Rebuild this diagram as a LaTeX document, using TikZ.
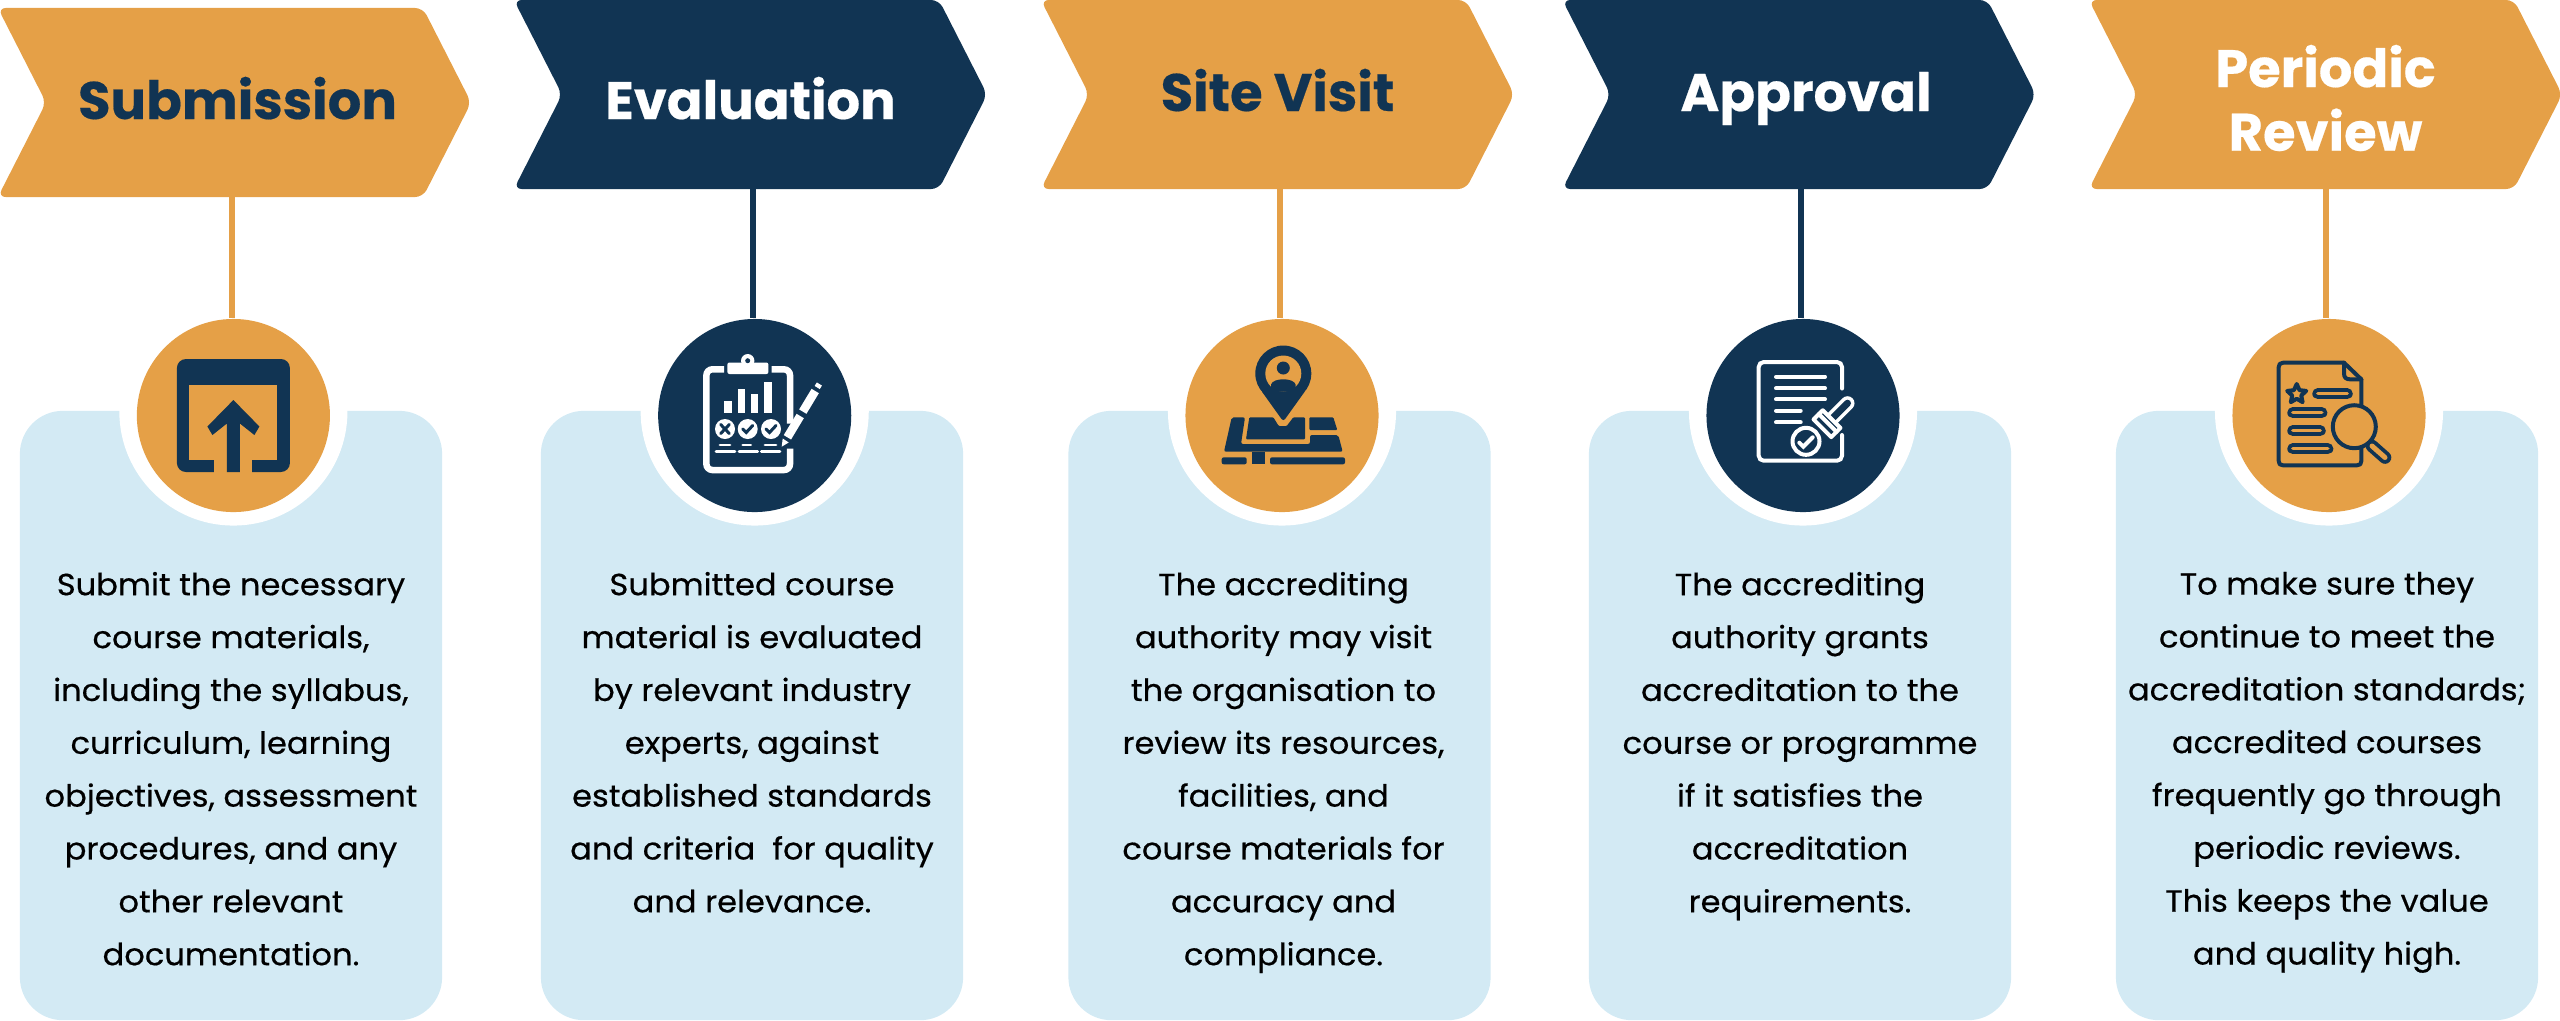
\documentclass[tikz,border=0pt]{standalone}
\usepackage{fontspec}
\usepackage{xcolor}
\usepackage{tikz}
\usetikzlibrary{positioning, arrows.meta, shapes.symbols, shapes.geometric}
\newfontfamily\bodyfont[FakeBold=0.5, FakeStretch=1.05]{Poppins}
\newfontfamily\titlefont[BoldFeatures={FakeBold=0.35}]{Poppins}
\definecolor{accorange}{HTML}{E5A047}
\definecolor{accnavy}{HTML}{113453}
\definecolor{panelblue}{HTML}{D3EAF4}

\begin{document}
\begin{tikzpicture}[
  x=0.01cm, y=-0.01cm,
  chev/.style={signal, signal to=east, signal from=west, signal pointer angle=126, rounded corners=0.08cm, minimum width=4.73cm, minimum height=1.89cm, inner sep=0pt, align=center, font=\titlefont\bfseries\fontsize{15}{18.1}\selectfont},
  chevorange/.style={chev, fill=accorange, text=accnavy},
  chevorangew/.style={chev, fill=accorange, text=white},
  chevnavy/.style={chev, fill=accnavy, text=white},
  panel/.style={draw=none, fill=panelblue, rounded corners=0.43cm, minimum width=4.22cm, minimum height=6.09cm, inner sep=0pt},
  ringgap/.style={circle, fill=white, minimum size=2.28cm, inner sep=0pt},
  discorange/.style={circle, fill=accorange, minimum size=1.93cm, inner sep=0pt},
  discnavy/.style={circle, fill=accnavy, minimum size=1.93cm, inner sep=0pt},
  linkorange/.style={draw=accorange, line width=0.06cm, shorten <=-0.05cm},
  linknavy/.style={draw=accnavy, line width=0.06cm, shorten <=-0.05cm},
  bodytext/.style={inner sep=0pt, align=center, text=black, font=\bodyfont\fontsize{8.7}{15.03}\selectfont},
  iconw/.style={draw=white, line width=0.04cm, line cap=round},
  iconn/.style={draw=accnavy, line width=0.04cm, line cap=round},
  pill/.style={draw=accnavy, double=accorange, double distance=0.035cm, line width=0.038cm, line cap=round}
]
  \useasboundingbox (0,0) rectangle (2560,1020);

  % panels
  \node[panel] (p1) at (231,715.5) {};
  \node[panel] (p2) at (752,715.5) {};
  \node[panel] (p3) at (1279.5,715.5) {};
  \node[panel] (p4) at (1800,715.5) {};
  \node[panel] (p5) at (2327,715.5) {};

  % headers
  \node[chevorange, text height=0.33cm, text depth=0pt] (s1) at (234.5,102.5) {\hspace*{0.06cm}Submission};
  \node[chevnavy, text height=0.49cm, text depth=0pt] (s2) at (750.5,94.5) {Evaluation};
  \node[chevorange, text height=0.33cm, text depth=0pt] (s3) at (1277.5,94.5) {Site Visit};
  \node[chevnavy, text height=0.33cm, text depth=0pt] (s4) at (1799,94.5) {\hspace*{0.14cm}Approval};
  \node[chevorangew] (s5) at (2325.5,94.5) {\rule{0pt}{14pt}Periodic\\Review};

  % white gaps and discs
  \node[ringgap] (g1) at (233.4,411.5) {};
  \node[ringgap] (g2) at (754.7,411.5) {};
  \node[ringgap] (g3) at (1282,411.5) {};
  \node[ringgap] (g4) at (1803,411.5) {};
  \node[ringgap] (g5) at (2329,411.5) {};
  \node[discorange] (c1) at (233.4,415.5) {};
  \node[discnavy] (c2) at (754.7,415.5) {};
  \node[discorange] (c3) at (1282,415.5) {};
  \node[discnavy] (c4) at (1803,415.5) {};
  \node[discorange] (c5) at (2329,415.5) {};

  \draw[linkorange] ([xshift=-0.01cm]c1.north |- s1.south) -- ([xshift=-0.01cm]c1.north);
  \draw[linknavy] ([xshift=-0.02cm]c2.north |- s2.south) -- ([xshift=-0.02cm]c2.north);
  \draw[linkorange] ([xshift=-0.02cm]c3.north |- s3.south) -- ([xshift=-0.02cm]c3.north);
  \draw[linknavy] ([xshift=-0.02cm]c4.north |- s4.south) -- ([xshift=-0.02cm]c4.north);
  \draw[linkorange] ([xshift=-0.03cm]c5.north |- s5.south) -- ([xshift=-0.03cm]c5.north);

  % texts
  \node[bodytext, below=1.61cm of p1.north] (t1) {Submit the necessary\\course materials,\\including the syllabus,\\curriculum, learning\\objectives, assessment\\procedures, and any\\other relevant\\documentation.};
  \node[bodytext, below=1.61cm of p2.north] (t2) {Submitted course\\material is evaluated\\by relevant industry\\experts, against\\established standards\\and criteria\ \ for quality\\and relevance.};
  \node[bodytext, below=1.61cm of p3.north, xshift=0.04cm] (t3) {The accrediting\\authority may visit\\the organisation to\\review its resources,\\facilities, and\\course materials for\\accuracy and\\compliance.};
  \node[bodytext, below=1.61cm of p4.north] (t4) {The accrediting\\authority grants\\accreditation to the\\course or programme\\if it satisfies the\\accreditation\\requirements.};
  \node[bodytext, below=1.61cm of p5.north] (t5) {To make sure they\\continue to meet the\\accreditation standards;\\accredited courses\\frequently go through\\periodic reviews.\\This keeps the value\\and quality high.};

  % upload icon
  \begin{scope}[shift={(c1.center)}]
    \fill[accnavy, rounded corners=0.09cm] (-56.5,-56.5) rectangle (56.5,56.5);
    \fill[accorange] (-44,-31) rectangle (44,44.5);
    \fill[accorange] (-19,44) rectangle (19,57);
    \fill[accnavy] (0,-15.5) -- (26,11) -- (21,19.5) -- (6.5,8) -- (6.5,56.5) -- (-6.5,56.5) -- (-6.5,8) -- (-21,19.5) -- (-26,11) -- cycle;
  \end{scope}

  % clipboard icon
  \begin{scope}[shift={(c2.center)}]
    \draw[iconw, line width=0.065cm, line cap=butt, rounded corners=0.06cm] (-30.5,-46.2) -- (-48.3,-46.2) -- (-48.3,54.5) -- (35.3,54.5) -- (35.3,33);
    \draw[iconw, line width=0.065cm, line cap=butt, rounded corners=0.06cm] (17,-46.2) -- (35.3,-46.2) -- (35.3,8);
    \fill[white, rounded corners=0.02cm] (-27.3,-53) rectangle (13.7,-41.5);
    \fill[white] (-7,-54.8) circle[radius=6.7];
    \fill[accnavy] (-7,-54.8) circle[radius=2.5];
    \fill[white] (-30.3,-14.8) rectangle (-23,-2.2);
    \fill[white] (-17,-26.5) rectangle (-9.7,-2.2);
    \fill[white] (-3.7,-21.5) rectangle (3.7,-2.2);
    \fill[white] (9.7,-34) rectangle (17.3,-2.2);
    \fill[white] (-29.7,13.5) circle[radius=10];
    \fill[white] (-7,13.5) circle[radius=10];
    \fill[white] (16.3,13.5) circle[radius=10];
    \draw[iconn, line width=0.03cm] (-34,9) -- (-25.4,18) (-25.4,9) -- (-34,18);
    \draw[iconn, line width=0.03cm] (-12,13.5) -- (-8.5,17) -- (-2,10);
    \draw[iconn, line width=0.03cm] (11.3,13.5) -- (14.8,17) -- (21.3,10);
    \draw[iconw, line width=0.028cm] (-34.7,29.5) -- (-24.7,29.5) (-12,29.5) -- (-4,29.5) (10.3,29.5) -- (21.3,29.5);
    \draw[iconw, line width=0.028cm] (-38.7,36) -- (-19.7,36) (-15.7,36) -- (3,36) (6.7,36) -- (25.3,36);
    \fill[white] (27,31.2) -- (28,23) -- (34,27) -- cycle;
    \draw[iconw, line width=0.085cm, line cap=butt] (32.7,21.8) -- (45.5,0.5);
    \draw[iconw, line width=0.085cm, line cap=butt] (48.1,-3.9) -- (60.5,-24.5);
    \draw[iconw, line width=0.06cm, line cap=butt] (62.5,-28) -- (64.7,-31.5);
  \end{scope}

  % map pin icon
  \begin{scope}[shift={(c3.center)}]
    \fill[accnavy, rounded corners=0.02cm] (-50.3,1.8) -- (-37,1.8) -- (-41,28.5) -- (28,28.5) -- (28,19.5) -- (56.3,19.5) -- (60.7,36.2) -- (-58,36.2) -- cycle;
    \fill[accnavy, rounded corners=0.01cm] (-32.7,1.8) -- (-8.7,1.8) -- (-3.3,10.5) -- (4.7,10.5) -- (11.3,1.8) -- (23,1.8) -- (23,23.8) -- (-36,23.8) -- cycle;
    \fill[accnavy, rounded corners=0.01cm] (27.3,1.8) -- (51.3,1.8) -- (55.3,14.5) -- (27.3,14.5) -- cycle;
    \fill[accnavy, rounded corners=0.02cm] (-60.3,41.8) rectangle (-35.3,48.8);
    \fill[accnavy] (-30,36) rectangle (-17,48.8);
    \fill[accnavy, rounded corners=0.02cm] (-12,41.8) rectangle (63,48.8);
    \fill[accnavy] (1.3,-42) circle[radius=28];
    \fill[accnavy, rounded corners=0.03cm] (24,-25.7) -- (1.3,6) -- (-21.4,-25.7) -- cycle;
    \fill[accorange] (1.3,-42) circle[radius=18];
    \fill[accnavy] (1.3,-47.5) circle[radius=6.5];
    \fill[accnavy] (-11,-31) .. controls (-9,-38) and (11.6,-38) .. (13.6,-31) -- (13.6,-24) -- (-11,-24) -- cycle;
  \end{scope}

  % stamped document icon
  \begin{scope}[shift={(c4.center)}]
    \draw[iconw, rounded corners=0.05cm] (39,-27) -- (39,-53.5) -- (-44.3,-53.5) -- (-44.3,45.2) -- (39,45.2) -- (39,19.5);
    \draw[iconw] (-27,-38.8) -- (22,-38.8) (-27,-27.2) -- (22,-27.2) (-27,-16.2) -- (22,-16.2);
    \draw[iconw] (-27,-4.8) -- (-2.3,-4.8) (-27,6.8) -- (-2.3,6.8);
    \draw[iconw] (3,25.8) circle[radius=13.5];
    \draw[iconw] (-3.7,27.2) -- (0.3,31.2) -- (9.7,21.8);
    \begin{scope}[shift={(24,8.2)}, rotate=45]
      \draw[draw=white, double=accnavy, double distance=0.07cm, line width=0.035cm, line cap=round] (8,0) -- (29,0);
      \draw[iconw, fill=accnavy, line join=round] (-6.5,-12.5) rectangle (6.5,12.5);
      \draw[iconw] (1,-12.5) -- (1,12.5);
    \end{scope}
  \end{scope}

  % review document icon
  \begin{scope}[shift={(c5.center)}]
    \draw[iconn, line join=round] (32.3,-10.5) -- (32.3,-36.2) -- (15,-52.8) -- (-46,-52.8) .. controls (-49,-52.8) and (-50.3,-51) .. (-50.3,-48.5) -- (-50.3,45.5) .. controls (-50.3,48.5) and (-49,49.8) .. (-46,49.8) -- (28,49.8) .. controls (31,49.8) and (32.3,48.5) .. (32.3,45.5) -- (32.3,32.8);
    \draw[iconn, line join=round] (15,-52.8) -- (15,-42) .. controls (15,-38) and (17,-36.2) .. (21,-36.2) -- (32.3,-36.2);
    \node[star, star points=5, star point ratio=2.1, draw=accnavy, line width=0.04cm, minimum size=0.2cm, inner sep=0pt, line join=round] (r1) at (-32.3,-21.5) {};
    \draw[pill] (-11.2,-21.8) -- (18.2,-21.8);
    \draw[pill] (-36.2,-2.8) -- (-7.2,-2.8);
    \draw[pill] (-36.2,15.2) -- (-8.8,15.2);
    \draw[pill] (-36.2,33.2) -- (-1.2,33.2);
    \draw[iconn] (25.3,11.2) circle[radius=21.5];
    \draw[pill, double distance=0.05cm] (43,30.5) -- (56,42);
  \end{scope}
\end{tikzpicture}
\end{document}
